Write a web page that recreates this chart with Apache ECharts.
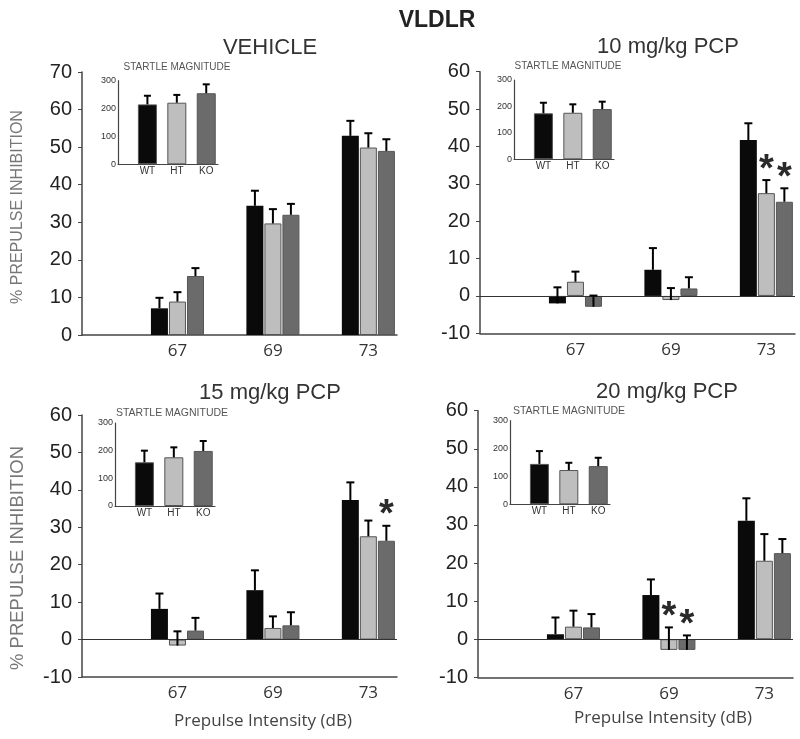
<!DOCTYPE html>
<html><head><meta charset="utf-8">
<script src="https://cdn.jsdelivr.net/npm/echarts@6/dist/echarts.min.js"></script>
<style>html,body{margin:0;padding:0;background:#fff}#c{width:800px;height:739px}</style>
</head><body><div id="c"></div>
<script>
// ---------- data ----------
const intensities = ['67', '69', '73'];
const genotypes = ['WT', 'HT', 'KO'];
const panelTitles = ['VEHICLE', '10 mg/kg PCP', '15 mg/kg PCP', '20 mg/kg PCP'];

// % prepulse inhibition, per genotype, at 67/69/73 dB; with SEM
const vehWT = [7.1, 34.4, 53.0],  vehWTse = [2.8, 4.0, 4.0];
const vehHT = [8.9, 29.7, 49.9],  vehHTse = [2.5, 3.8, 3.8];
const vehKO = [15.7, 32.0, 49.0], vehKOse = [2.1, 2.9, 3.1];

const p10WT = [-2.0, 7.0, 41.7],  p10WTse = [4.3, 5.8, 4.5];
const p10HT = [3.8, -1.1, 27.5],  p10HTse = [2.7, 3.2, 3.5];
const p10KO = [-2.9, 2.0, 25.2],  p10KOse = [3.0, 3.0, 3.6];

const p15WT = [8.2, 13.2, 37.3],  p15WTse = [4.1, 5.3, 4.7];
const p15HT = [-1.6, 3.1, 27.6],  p15HTse = [3.8, 3.1, 4.2];
const p15KO = [2.4, 3.8, 26.4],   p15KOse = [3.4, 3.5, 4.0];

const p20WT = [1.3, 11.6, 31.1],  p20WTse = [4.4, 4.1, 5.9];
const p20HT = [3.3, -2.8, 20.6],  p20HTse = [4.2, 5.9, 7.0];
const p20KO = [3.1, -2.8, 22.6],  p20KOse = [3.5, 3.8, 3.7];

// significance marks (1 = asterisk) per genotype at 67/69/73 dB
const vehSig = { WT: [0,0,0], HT: [0,0,0], KO: [0,0,0] };
const p10Sig = { WT: [0,0,0], HT: [0,0,1], KO: [0,0,1] };
const p15Sig = { WT: [0,0,0], HT: [0,0,0], KO: [0,0,1] };
const p20Sig = { WT: [0,0,0], HT: [0,1,0], KO: [0,1,0] };

// startle magnitude insets (WT, HT, KO) with SEM
const vehStartle = [215, 221, 255], vehStartleSe = [31, 28, 32];
const p10Startle = [174, 176, 190], p10StartleSe = [40, 32, 28];
const p15Startle = [158, 176, 199], p15StartleSe = [42, 36, 36];
const p20Startle = [145, 123, 137], p20StartleSe = [46, 26, 30];

const mainYTicks = [{min: 0, max: 70}, {min: -10, max: 60}, {min: -10, max: 60}, {min: -10, max: 60}];
const startleTicks = {min: 0, max: 300, interval: 100};

// ---------- styling / layout ----------
const colors = ['#0a0a0a', '#bebebe', '#6b6b6b'];
const barW = 17, barOffsets = [-18, 0, 18];
const layout = [
  {left: 82,  top: 72,    h: 263,   inset: {left: 118, top: 80.7,  h: 83.6}},
  {left: 480, top: 71.7,  h: 261.6, inset: {left: 514, top: 80,    h: 79.3}},
  {left: 82,  top: 415,   h: 262,   inset: {left: 115, top: 423,   h: 83}},
  {left: 478, top: 410.7, h: 266.6, inset: {left: 510, top: 420.7, h: 83.6}}
];
const panels = [
  {vals: [vehWT, vehHT, vehKO], se: [vehWTse, vehHTse, vehKOse], sig: vehSig, st: vehStartle, stse: vehStartleSe},
  {vals: [p10WT, p10HT, p10KO], se: [p10WTse, p10HTse, p10KOse], sig: p10Sig, st: p10Startle, stse: p10StartleSe},
  {vals: [p15WT, p15HT, p15KO], se: [p15WTse, p15HTse, p15KOse], sig: p15Sig, st: p15Startle, stse: p15StartleSe},
  {vals: [p20WT, p20HT, p20KO], se: [p20WTse, p20HTse, p20KOse], sig: p20Sig, st: p20Startle, stse: p20StartleSe}
];

function errRender(offset, capHalf, lw) {
  return function (params, api) {
    const x = api.value(0), v = api.value(1), e = api.value(2), s = api.value(3);
    const p0 = api.coord([x, v]), p1 = api.coord([x, v + e]);
    const cx = p0[0] + offset;
    const children = [
      {type: 'line', shape: {x1: cx, y1: p0[1], x2: cx, y2: p1[1]}, style: {stroke: '#000', lineWidth: lw}},
      {type: 'line', shape: {x1: cx - capHalf, y1: p1[1], x2: cx + capHalf, y2: p1[1]}, style: {stroke: '#000', lineWidth: lw}}
    ];
    if (s) {
      children.push({type: 'text', x: cx, y: p1[1] - 10,
        style: {text: '*', fontSize: 38, fontWeight: 'bold', fontFamily: 'Liberation Sans', fill: '#2a2a2a', align: 'center', verticalAlign: 'middle'}});
    }
    return {type: 'group', children: children};
  };
}

const grid = [], xAxis = [], yAxis = [], series = [];
const axisLineStyle = {color: '#444', width: 1.5};

layout.forEach((L, i) => {
  const P = panels[i];
  // main grid
  grid.push({left: L.left, top: L.top, width: 315, height: L.h, containLabel: false});
  const gi = grid.length - 1;
  xAxis.push({gridIndex: gi, type: 'value', min: 0, max: 3.3, interval: 1,
    axisLine: {show: true, onZero: false, lineStyle: axisLineStyle},
    axisTick: {show: false}, splitLine: {show: false},
    axisLabel: {margin: 8, fontSize: 17, fontFamily: 'Open Sans', color: '#333',
      formatter: v => (Number.isInteger(v) && v >= 1 && v <= 3) ? intensities[v - 1] : ''}});
  yAxis.push({gridIndex: gi, type: 'value', min: mainYTicks[i].min, max: mainYTicks[i].max, interval: 10,
    axisLine: {show: true, onZero: false, lineStyle: axisLineStyle},
    axisTick: {show: true, length: 4, lineStyle: {color: '#444'}}, splitLine: {show: false},
    axisLabel: {margin: 10, fontSize: 20, fontFamily: 'Liberation Sans', color: '#222'}});
  const ax = xAxis.length - 1;
  genotypes.forEach((g, k) => {
    const s = {type: 'bar', name: g, xAxisIndex: ax, yAxisIndex: ax, barWidth: barW, barGap: '6%',
      itemStyle: {color: colors[k], borderColor: '#555', borderWidth: k === 0 ? 0 : 1},
      data: P.vals[k].map((v, j) => [j + 1, v]), silent: true};
    if (k === 0 && mainYTicks[i].min < 0) {
      s.markLine = {silent: true, symbol: 'none', label: {show: false}, animation: false,
        lineStyle: {color: '#333', width: 1.2, type: 'solid'}, data: [{yAxis: 0}]};
    }
    series.push(s);
  });
  genotypes.forEach((g, k) => {
    series.push({type: 'custom', xAxisIndex: ax, yAxisIndex: ax, z: 5, silent: true,
      renderItem: errRender(barOffsets[k], 4, 2),
      data: P.vals[k].map((v, j) => [j + 1, v, P.se[k][j], P.sig[g][j]])});
  });
  // inset grid
  const I = L.inset;
  grid.push({left: I.left, top: I.top, width: 100, height: I.h});
  xAxis.push({gridIndex: gi + 1, type: 'value', min: 0, max: 3.4, interval: 1,
    axisLine: {show: true, onZero: false, lineStyle: {color: '#444', width: 1.2}},
    axisTick: {show: false}, splitLine: {show: false},
    axisLabel: {margin: 2, fontSize: 10, fontFamily: 'Liberation Sans', color: '#333',
      formatter: v => (Number.isInteger(v) && v >= 1 && v <= 3) ? genotypes[v - 1] : ''}});
  yAxis.push({gridIndex: gi + 1, type: 'value', min: startleTicks.min, max: startleTicks.max, interval: startleTicks.interval,
    axisLine: {show: true, onZero: false, lineStyle: {color: '#444', width: 1.2}},
    axisTick: {show: false}, splitLine: {show: false},
    axisLabel: {margin: 2, fontSize: 9, fontFamily: 'Liberation Sans Narrow, Liberation Sans', color: '#333'}});
  const iax = xAxis.length - 1;
  series.push({type: 'bar', xAxisIndex: iax, yAxisIndex: iax, barWidth: 19, silent: true,
    itemStyle: {color: p => colors[p.dataIndex], borderColor: '#555', borderWidth: 1},
    data: P.st.map((v, j) => [j + 1, v])});
  series.push({type: 'custom', xAxisIndex: iax, yAxisIndex: iax, z: 5, silent: true,
    renderItem: errRender(0, 3.5, 2),
    data: P.st.map((v, j) => [j + 1, v, P.stse[j], 0])});
});

function txt(text, x, y, size, opts) {
  opts = opts || {};
  return {type: 'text', x: x, y: y, rotation: opts.rot || 0, z: 100,
    style: {text: text, fontSize: size, fontFamily: opts.family || 'Liberation Sans',
      fontWeight: opts.weight || 'normal', fill: opts.color || '#333',
      align: 'center', verticalAlign: 'middle', textAlign: 'center', textVerticalAlign: 'middle'}};
}

const graphic = [
  txt('VLDLR', 437, 21, 23, {weight: 'bold', color: '#222'}),
  txt(panelTitles[0], 270, 48, 22),
  txt(panelTitles[1], 668, 47, 22),
  txt(panelTitles[2], 270, 393, 22),
  txt(panelTitles[3], 667, 392, 22),
  txt('% PREPULSE INHIBITION', 18, 207, 16, {rot: Math.PI / 2, color: '#777'}),
  txt('% PREPULSE INHIBITION', 18, 558, 18.5, {rot: Math.PI / 2, color: '#777'}),
  txt('Prepulse Intensity (dB)', 263, 721, 17, {family: 'Open Sans', color: '#444'}),
  txt('Prepulse Intensity (dB)', 663, 718, 17, {family: 'Open Sans', color: '#444'}),
  txt('STARTLE MAGNITUDE', 177, 67, 10, {color: '#555'}),
  txt('STARTLE MAGNITUDE', 568, 66, 10, {color: '#555'}),
  txt('STARTLE MAGNITUDE', 172, 413, 10.5, {color: '#555'}),
  txt('STARTLE MAGNITUDE', 569, 411, 10.5, {color: '#555'})
];

const chart = echarts.init(document.getElementById('c'), null, {renderer: 'canvas'});
chart.setOption({animation: false, backgroundColor: '#fff', grid, xAxis, yAxis, series, graphic});
</script></body></html>
